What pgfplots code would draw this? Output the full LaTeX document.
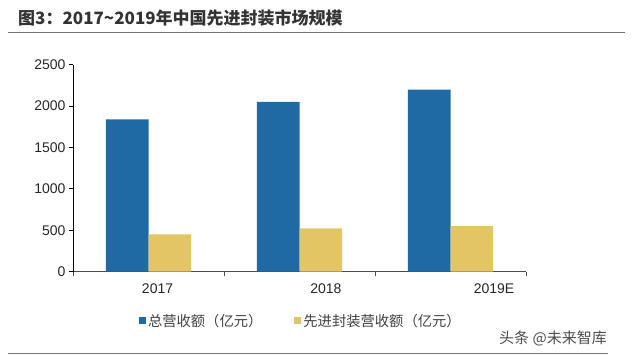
\documentclass[border=0pt]{standalone}
\usepackage{fontspec}
\setmainfont{Liberation Sans}
\newfontfamily\cjk{Noto Sans CJK SC}
\usepackage{pgfplots}
\pgfplotsset{compat=1.18}
\definecolor{cblue}{HTML}{1F6AA5}
\definecolor{cyel}{HTML}{E3C565}
\begin{document}
\begin{tikzpicture}
\path (0pt,0pt) rectangle (640pt,356pt);
\draw[black!55, line width=1pt] (8pt,323.7pt) -- (625pt,323.7pt);
\draw[black!55, line width=1pt] (8pt,2.7pt) -- (608pt,2.7pt);
\node[anchor=base west, inner sep=0pt, font=\cjk\bfseries\fontsize{17}{19}\selectfont, text=black!80] at (18pt,331pt) {图3：2017\textasciitilde 2019年中国先进封装市场规模};
\node[anchor=center, inner sep=0pt, font=\cjk\fontsize{15}{17}\selectfont, text=black!70] at (553pt,18pt) {头条 @未来智库};
\begin{axis}[
  at={(73pt,84.3pt)}, anchor=south west,
  scale only axis, width=453pt, height=207pt,
  xmin=-0.5, xmax=2.5, ymin=0, ymax=2500,
  axis x line*=bottom, axis y line*=left,
  x axis line style={-, black!70, line width=0.8pt},
  y axis line style={-, black, line width=0.8pt},
  ytick={0,500,1000,1500,2000,2500},
  scaled y ticks=false,
  /pgf/number format/1000 sep={},
  /pgf/number format/assume math mode=true,
  tick align=outside,
  major tick length=4pt,
  ytick style={black, line width=0.8pt},
  xtick={-0.5,0.5,1.5,2.5},
  xticklabels={},
  xtick style={black!70, line width=0.8pt},
  extra x ticks={0.06,1.175,2.288},
  extra x tick labels={2017,2018,2019E},
  extra x tick style={major tick length=0pt},
  x tick label style={yshift=-8pt},
  tick label style={font=\fontsize{14}{16}\selectfont, text=black!85},
  ymajorgrids=false,
  legend style={at={(0.503,-0.238)}, anchor=center, draw=none, fill=none,
    font=\cjk\fontsize{14.3}{16}\selectfont, text=black!75,
    legend columns=2,
    /tikz/every even column/.append style={column sep=30pt}},
  legend image code/.code={\fill[#1, draw=none] (0pt,-3.5pt) rectangle (7pt,3.5pt);},
]
\addplot[ybar, bar width=0.283, bar shift=-0.1415, fill=cblue, draw=none] coordinates {(0,1840) (1,2050) (2,2200)};
\addlegendentry{总营收额（亿元）}
\addplot[ybar, bar width=0.283, bar shift=0.1415, fill=cyel, draw=none] coordinates {(0,450) (1,522) (2,550)};
\addlegendentry{先进封装营收额（亿元）}
\end{axis}
\end{tikzpicture}
\end{document}
